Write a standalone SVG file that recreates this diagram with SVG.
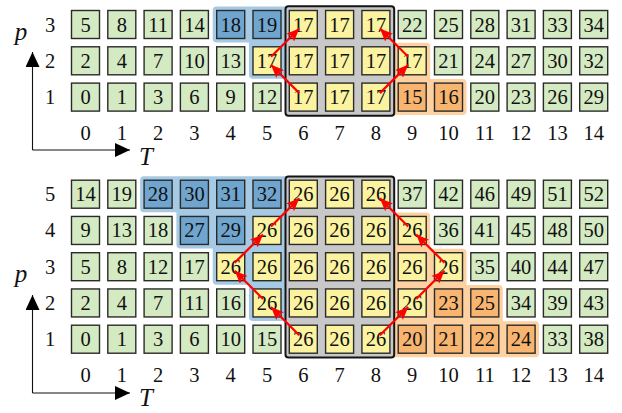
<svg xmlns="http://www.w3.org/2000/svg" width="622" height="413" viewBox="0 0 622 413">
<style>
text{font-family:"Liberation Serif","DejaVu Serif",serif;font-size:20.5px;fill:#111;text-anchor:middle}
.ax{font-style:italic;font-size:25px}
.cell rect{stroke:#2a2a2a;stroke-width:1.4}
.g rect{fill:#d4eac3}.y rect{fill:#fbf3a0}.b rect{fill:#6fa5cf}.o rect{fill:#f8b56f}
.rb{fill:#a6cae3;stroke:#a6cae3;stroke-width:8;stroke-linejoin:round}
.ro{fill:#fdd1a1;stroke:#fdd1a1;stroke-width:8;stroke-linejoin:round}
.box{fill:#c8c8c8;stroke:#151515;stroke-width:2}
.arr{stroke:#f00;stroke-width:2.2;fill:none;marker-end:url(#ra)}
.axl{stroke:#111;stroke-width:1.1;fill:none;marker-end:url(#ka)}
</style>
<defs>
<marker id="ra" markerUnits="userSpaceOnUse" markerWidth="14" markerHeight="11" refX="13" refY="5.5" orient="auto"><path d="M0,0 L13,5.5 L0,11 L2.5,5.5 z" fill="#f00"/></marker>
<marker id="ka" markerUnits="userSpaceOnUse" markerWidth="16" markerHeight="14" refX="15" refY="7" orient="auto"><path d="M0,0 L15,7 L0,14 z" fill="#000"/></marker>
</defs>
<rect width="622" height="413" fill="#fff"/>

<g id="regions">
<polygon class="rb" points="216.7,10.5 295,10.5 295,74.8 253,74.8 253,38.5 216.7,38.5"/>
<polygon class="ro" points="380,46.8 426.2,46.8 426.2,83.1 462.5,83.1 462.5,111.1 380,111.1"/>
<polygon class="rb" points="144.1,180.2 295,180.2 295,316.95 253,316.95 253,280.7 216.7,280.7 216.7,244.45 180.4,244.45 180.4,208.2 144.1,208.2"/>
<polygon class="ro" points="380,216.45 426.2,216.45 426.2,252.7 462.5,252.7 462.5,288.95 498.8,288.95 498.8,325.2 535.1,325.2 535.1,353.2 380,353.2"/>
<rect id="box-top" class="box" x="285.5" y="6.3" width="108.7" height="109.4" rx="3"/>
<rect id="box-bottom" class="box" x="285.5" y="176.5" width="108.7" height="181" rx="3"/>
</g>

<g id="axes-top">
<path class="axl" d="M32.5,150 V52"/>
<path class="axl" d="M32.5,150 H130"/>
<text class="ax" x="21" y="40">p</text>
<text class="ax" x="146" y="165">T</text>
<text x="50" y="31.5">3</text><text x="50" y="67.8">2</text><text x="50" y="104.1">1</text>
<text x="85.5" y="139.5">0</text><text x="121.8" y="139.5">1</text><text x="158.1" y="139.5">2</text><text x="194.4" y="139.5">3</text><text x="230.7" y="139.5">4</text><text x="267" y="139.5">5</text><text x="303.3" y="139.5">6</text><text x="339.6" y="139.5">7</text><text x="375.9" y="139.5">8</text><text x="412.2" y="139.5">9</text><text x="448.5" y="139.5">10</text><text x="484.8" y="139.5">11</text><text x="521.1" y="139.5">12</text><text x="557.4" y="139.5">13</text><text x="593.7" y="139.5">14</text>
</g>

<g id="axes-bottom">
<path class="axl" d="M32.5,393 V295"/>
<path class="axl" d="M32.5,393 H130"/>
<text class="ax" x="21" y="282">p</text>
<text class="ax" x="146" y="406">T</text>
<text x="50" y="201.2">5</text><text x="50" y="237.45">4</text><text x="50" y="273.7">3</text><text x="50" y="309.95">2</text><text x="50" y="346.2">1</text>
<text x="85.5" y="382">0</text><text x="121.8" y="382">1</text><text x="158.1" y="382">2</text><text x="194.4" y="382">3</text><text x="230.7" y="382">4</text><text x="267" y="382">5</text><text x="303.3" y="382">6</text><text x="339.6" y="382">7</text><text x="375.9" y="382">8</text><text x="412.2" y="382">9</text><text x="448.5" y="382">10</text><text x="484.8" y="382">11</text><text x="521.1" y="382">12</text><text x="557.4" y="382">13</text><text x="593.7" y="382">14</text>
</g>

<g id="top-r3">
<g id="a-0-3" class="cell g" transform="translate(85.5,24.5)"><rect x="-14" y="-14" width="28" height="28"/><text y="7">5</text></g>
<g id="a-1-3" class="cell g" transform="translate(121.8,24.5)"><rect x="-14" y="-14" width="28" height="28"/><text y="7">8</text></g>
<g id="a-2-3" class="cell g" transform="translate(158.1,24.5)"><rect x="-14" y="-14" width="28" height="28"/><text y="7">11</text></g>
<g id="a-3-3" class="cell g" transform="translate(194.4,24.5)"><rect x="-14" y="-14" width="28" height="28"/><text y="7">14</text></g>
<g id="a-4-3" class="cell b" transform="translate(230.7,24.5)"><rect x="-14" y="-14" width="28" height="28"/><text y="7">18</text></g>
<g id="a-5-3" class="cell b" transform="translate(267,24.5)"><rect x="-14" y="-14" width="28" height="28"/><text y="7">19</text></g>
<g id="a-6-3" class="cell y" transform="translate(303.3,24.5)"><rect x="-14" y="-14" width="28" height="28"/><text y="7">17</text></g>
<g id="a-7-3" class="cell y" transform="translate(339.6,24.5)"><rect x="-14" y="-14" width="28" height="28"/><text y="7">17</text></g>
<g id="a-8-3" class="cell y" transform="translate(375.9,24.5)"><rect x="-14" y="-14" width="28" height="28"/><text y="7">17</text></g>
<g id="a-9-3" class="cell g" transform="translate(412.2,24.5)"><rect x="-14" y="-14" width="28" height="28"/><text y="7">22</text></g>
<g id="a-10-3" class="cell g" transform="translate(448.5,24.5)"><rect x="-14" y="-14" width="28" height="28"/><text y="7">25</text></g>
<g id="a-11-3" class="cell g" transform="translate(484.8,24.5)"><rect x="-14" y="-14" width="28" height="28"/><text y="7">28</text></g>
<g id="a-12-3" class="cell g" transform="translate(521.1,24.5)"><rect x="-14" y="-14" width="28" height="28"/><text y="7">31</text></g>
<g id="a-13-3" class="cell g" transform="translate(557.4,24.5)"><rect x="-14" y="-14" width="28" height="28"/><text y="7">33</text></g>
<g id="a-14-3" class="cell g" transform="translate(593.7,24.5)"><rect x="-14" y="-14" width="28" height="28"/><text y="7">34</text></g>
</g>
<g id="top-r2">
<g id="a-0-2" class="cell g" transform="translate(85.5,60.8)"><rect x="-14" y="-14" width="28" height="28"/><text y="7">2</text></g>
<g id="a-1-2" class="cell g" transform="translate(121.8,60.8)"><rect x="-14" y="-14" width="28" height="28"/><text y="7">4</text></g>
<g id="a-2-2" class="cell g" transform="translate(158.1,60.8)"><rect x="-14" y="-14" width="28" height="28"/><text y="7">7</text></g>
<g id="a-3-2" class="cell g" transform="translate(194.4,60.8)"><rect x="-14" y="-14" width="28" height="28"/><text y="7">10</text></g>
<g id="a-4-2" class="cell g" transform="translate(230.7,60.8)"><rect x="-14" y="-14" width="28" height="28"/><text y="7">13</text></g>
<g id="a-5-2" class="cell y" transform="translate(267,60.8)"><rect x="-14" y="-14" width="28" height="28"/><text y="7">17</text></g>
<g id="a-6-2" class="cell y" transform="translate(303.3,60.8)"><rect x="-14" y="-14" width="28" height="28"/><text y="7">17</text></g>
<g id="a-7-2" class="cell y" transform="translate(339.6,60.8)"><rect x="-14" y="-14" width="28" height="28"/><text y="7">17</text></g>
<g id="a-8-2" class="cell y" transform="translate(375.9,60.8)"><rect x="-14" y="-14" width="28" height="28"/><text y="7">17</text></g>
<g id="a-9-2" class="cell y" transform="translate(412.2,60.8)"><rect x="-14" y="-14" width="28" height="28"/><text y="7">17</text></g>
<g id="a-10-2" class="cell g" transform="translate(448.5,60.8)"><rect x="-14" y="-14" width="28" height="28"/><text y="7">21</text></g>
<g id="a-11-2" class="cell g" transform="translate(484.8,60.8)"><rect x="-14" y="-14" width="28" height="28"/><text y="7">24</text></g>
<g id="a-12-2" class="cell g" transform="translate(521.1,60.8)"><rect x="-14" y="-14" width="28" height="28"/><text y="7">27</text></g>
<g id="a-13-2" class="cell g" transform="translate(557.4,60.8)"><rect x="-14" y="-14" width="28" height="28"/><text y="7">30</text></g>
<g id="a-14-2" class="cell g" transform="translate(593.7,60.8)"><rect x="-14" y="-14" width="28" height="28"/><text y="7">32</text></g>
</g>
<g id="top-r1">
<g id="a-0-1" class="cell g" transform="translate(85.5,97.1)"><rect x="-14" y="-14" width="28" height="28"/><text y="7">0</text></g>
<g id="a-1-1" class="cell g" transform="translate(121.8,97.1)"><rect x="-14" y="-14" width="28" height="28"/><text y="7">1</text></g>
<g id="a-2-1" class="cell g" transform="translate(158.1,97.1)"><rect x="-14" y="-14" width="28" height="28"/><text y="7">3</text></g>
<g id="a-3-1" class="cell g" transform="translate(194.4,97.1)"><rect x="-14" y="-14" width="28" height="28"/><text y="7">6</text></g>
<g id="a-4-1" class="cell g" transform="translate(230.7,97.1)"><rect x="-14" y="-14" width="28" height="28"/><text y="7">9</text></g>
<g id="a-5-1" class="cell g" transform="translate(267,97.1)"><rect x="-14" y="-14" width="28" height="28"/><text y="7">12</text></g>
<g id="a-6-1" class="cell y" transform="translate(303.3,97.1)"><rect x="-14" y="-14" width="28" height="28"/><text y="7">17</text></g>
<g id="a-7-1" class="cell y" transform="translate(339.6,97.1)"><rect x="-14" y="-14" width="28" height="28"/><text y="7">17</text></g>
<g id="a-8-1" class="cell y" transform="translate(375.9,97.1)"><rect x="-14" y="-14" width="28" height="28"/><text y="7">17</text></g>
<g id="a-9-1" class="cell o" transform="translate(412.2,97.1)"><rect x="-14" y="-14" width="28" height="28"/><text y="7">15</text></g>
<g id="a-10-1" class="cell o" transform="translate(448.5,97.1)"><rect x="-14" y="-14" width="28" height="28"/><text y="7">16</text></g>
<g id="a-11-1" class="cell g" transform="translate(484.8,97.1)"><rect x="-14" y="-14" width="28" height="28"/><text y="7">20</text></g>
<g id="a-12-1" class="cell g" transform="translate(521.1,97.1)"><rect x="-14" y="-14" width="28" height="28"/><text y="7">23</text></g>
<g id="a-13-1" class="cell g" transform="translate(557.4,97.1)"><rect x="-14" y="-14" width="28" height="28"/><text y="7">26</text></g>
<g id="a-14-1" class="cell g" transform="translate(593.7,97.1)"><rect x="-14" y="-14" width="28" height="28"/><text y="7">29</text></g>
</g>

<g id="bot-r5">
<g id="b-0-5" class="cell g" transform="translate(85.5,194.2)"><rect x="-14" y="-14" width="28" height="28"/><text y="7">14</text></g>
<g id="b-1-5" class="cell g" transform="translate(121.8,194.2)"><rect x="-14" y="-14" width="28" height="28"/><text y="7">19</text></g>
<g id="b-2-5" class="cell b" transform="translate(158.1,194.2)"><rect x="-14" y="-14" width="28" height="28"/><text y="7">28</text></g>
<g id="b-3-5" class="cell b" transform="translate(194.4,194.2)"><rect x="-14" y="-14" width="28" height="28"/><text y="7">30</text></g>
<g id="b-4-5" class="cell b" transform="translate(230.7,194.2)"><rect x="-14" y="-14" width="28" height="28"/><text y="7">31</text></g>
<g id="b-5-5" class="cell b" transform="translate(267,194.2)"><rect x="-14" y="-14" width="28" height="28"/><text y="7">32</text></g>
<g id="b-6-5" class="cell y" transform="translate(303.3,194.2)"><rect x="-14" y="-14" width="28" height="28"/><text y="7">26</text></g>
<g id="b-7-5" class="cell y" transform="translate(339.6,194.2)"><rect x="-14" y="-14" width="28" height="28"/><text y="7">26</text></g>
<g id="b-8-5" class="cell y" transform="translate(375.9,194.2)"><rect x="-14" y="-14" width="28" height="28"/><text y="7">26</text></g>
<g id="b-9-5" class="cell g" transform="translate(412.2,194.2)"><rect x="-14" y="-14" width="28" height="28"/><text y="7">37</text></g>
<g id="b-10-5" class="cell g" transform="translate(448.5,194.2)"><rect x="-14" y="-14" width="28" height="28"/><text y="7">42</text></g>
<g id="b-11-5" class="cell g" transform="translate(484.8,194.2)"><rect x="-14" y="-14" width="28" height="28"/><text y="7">46</text></g>
<g id="b-12-5" class="cell g" transform="translate(521.1,194.2)"><rect x="-14" y="-14" width="28" height="28"/><text y="7">49</text></g>
<g id="b-13-5" class="cell g" transform="translate(557.4,194.2)"><rect x="-14" y="-14" width="28" height="28"/><text y="7">51</text></g>
<g id="b-14-5" class="cell g" transform="translate(593.7,194.2)"><rect x="-14" y="-14" width="28" height="28"/><text y="7">52</text></g>
</g>
<g id="bot-r4">
<g id="b-0-4" class="cell g" transform="translate(85.5,230.45)"><rect x="-14" y="-14" width="28" height="28"/><text y="7">9</text></g>
<g id="b-1-4" class="cell g" transform="translate(121.8,230.45)"><rect x="-14" y="-14" width="28" height="28"/><text y="7">13</text></g>
<g id="b-2-4" class="cell g" transform="translate(158.1,230.45)"><rect x="-14" y="-14" width="28" height="28"/><text y="7">18</text></g>
<g id="b-3-4" class="cell b" transform="translate(194.4,230.45)"><rect x="-14" y="-14" width="28" height="28"/><text y="7">27</text></g>
<g id="b-4-4" class="cell b" transform="translate(230.7,230.45)"><rect x="-14" y="-14" width="28" height="28"/><text y="7">29</text></g>
<g id="b-5-4" class="cell y" transform="translate(267,230.45)"><rect x="-14" y="-14" width="28" height="28"/><text y="7">26</text></g>
<g id="b-6-4" class="cell y" transform="translate(303.3,230.45)"><rect x="-14" y="-14" width="28" height="28"/><text y="7">26</text></g>
<g id="b-7-4" class="cell y" transform="translate(339.6,230.45)"><rect x="-14" y="-14" width="28" height="28"/><text y="7">26</text></g>
<g id="b-8-4" class="cell y" transform="translate(375.9,230.45)"><rect x="-14" y="-14" width="28" height="28"/><text y="7">26</text></g>
<g id="b-9-4" class="cell y" transform="translate(412.2,230.45)"><rect x="-14" y="-14" width="28" height="28"/><text y="7">26</text></g>
<g id="b-10-4" class="cell g" transform="translate(448.5,230.45)"><rect x="-14" y="-14" width="28" height="28"/><text y="7">36</text></g>
<g id="b-11-4" class="cell g" transform="translate(484.8,230.45)"><rect x="-14" y="-14" width="28" height="28"/><text y="7">41</text></g>
<g id="b-12-4" class="cell g" transform="translate(521.1,230.45)"><rect x="-14" y="-14" width="28" height="28"/><text y="7">45</text></g>
<g id="b-13-4" class="cell g" transform="translate(557.4,230.45)"><rect x="-14" y="-14" width="28" height="28"/><text y="7">48</text></g>
<g id="b-14-4" class="cell g" transform="translate(593.7,230.45)"><rect x="-14" y="-14" width="28" height="28"/><text y="7">50</text></g>
</g>
<g id="bot-r3">
<g id="b-0-3" class="cell g" transform="translate(85.5,266.7)"><rect x="-14" y="-14" width="28" height="28"/><text y="7">5</text></g>
<g id="b-1-3" class="cell g" transform="translate(121.8,266.7)"><rect x="-14" y="-14" width="28" height="28"/><text y="7">8</text></g>
<g id="b-2-3" class="cell g" transform="translate(158.1,266.7)"><rect x="-14" y="-14" width="28" height="28"/><text y="7">12</text></g>
<g id="b-3-3" class="cell g" transform="translate(194.4,266.7)"><rect x="-14" y="-14" width="28" height="28"/><text y="7">17</text></g>
<g id="b-4-3" class="cell y" transform="translate(230.7,266.7)"><rect x="-14" y="-14" width="28" height="28"/><text y="7">26</text></g>
<g id="b-5-3" class="cell y" transform="translate(267,266.7)"><rect x="-14" y="-14" width="28" height="28"/><text y="7">26</text></g>
<g id="b-6-3" class="cell y" transform="translate(303.3,266.7)"><rect x="-14" y="-14" width="28" height="28"/><text y="7">26</text></g>
<g id="b-7-3" class="cell y" transform="translate(339.6,266.7)"><rect x="-14" y="-14" width="28" height="28"/><text y="7">26</text></g>
<g id="b-8-3" class="cell y" transform="translate(375.9,266.7)"><rect x="-14" y="-14" width="28" height="28"/><text y="7">26</text></g>
<g id="b-9-3" class="cell y" transform="translate(412.2,266.7)"><rect x="-14" y="-14" width="28" height="28"/><text y="7">26</text></g>
<g id="b-10-3" class="cell y" transform="translate(448.5,266.7)"><rect x="-14" y="-14" width="28" height="28"/><text y="7">26</text></g>
<g id="b-11-3" class="cell g" transform="translate(484.8,266.7)"><rect x="-14" y="-14" width="28" height="28"/><text y="7">35</text></g>
<g id="b-12-3" class="cell g" transform="translate(521.1,266.7)"><rect x="-14" y="-14" width="28" height="28"/><text y="7">40</text></g>
<g id="b-13-3" class="cell g" transform="translate(557.4,266.7)"><rect x="-14" y="-14" width="28" height="28"/><text y="7">44</text></g>
<g id="b-14-3" class="cell g" transform="translate(593.7,266.7)"><rect x="-14" y="-14" width="28" height="28"/><text y="7">47</text></g>
</g>
<g id="bot-r2">
<g id="b-0-2" class="cell g" transform="translate(85.5,302.95)"><rect x="-14" y="-14" width="28" height="28"/><text y="7">2</text></g>
<g id="b-1-2" class="cell g" transform="translate(121.8,302.95)"><rect x="-14" y="-14" width="28" height="28"/><text y="7">4</text></g>
<g id="b-2-2" class="cell g" transform="translate(158.1,302.95)"><rect x="-14" y="-14" width="28" height="28"/><text y="7">7</text></g>
<g id="b-3-2" class="cell g" transform="translate(194.4,302.95)"><rect x="-14" y="-14" width="28" height="28"/><text y="7">11</text></g>
<g id="b-4-2" class="cell g" transform="translate(230.7,302.95)"><rect x="-14" y="-14" width="28" height="28"/><text y="7">16</text></g>
<g id="b-5-2" class="cell y" transform="translate(267,302.95)"><rect x="-14" y="-14" width="28" height="28"/><text y="7">26</text></g>
<g id="b-6-2" class="cell y" transform="translate(303.3,302.95)"><rect x="-14" y="-14" width="28" height="28"/><text y="7">26</text></g>
<g id="b-7-2" class="cell y" transform="translate(339.6,302.95)"><rect x="-14" y="-14" width="28" height="28"/><text y="7">26</text></g>
<g id="b-8-2" class="cell y" transform="translate(375.9,302.95)"><rect x="-14" y="-14" width="28" height="28"/><text y="7">26</text></g>
<g id="b-9-2" class="cell y" transform="translate(412.2,302.95)"><rect x="-14" y="-14" width="28" height="28"/><text y="7">26</text></g>
<g id="b-10-2" class="cell o" transform="translate(448.5,302.95)"><rect x="-14" y="-14" width="28" height="28"/><text y="7">23</text></g>
<g id="b-11-2" class="cell o" transform="translate(484.8,302.95)"><rect x="-14" y="-14" width="28" height="28"/><text y="7">25</text></g>
<g id="b-12-2" class="cell g" transform="translate(521.1,302.95)"><rect x="-14" y="-14" width="28" height="28"/><text y="7">34</text></g>
<g id="b-13-2" class="cell g" transform="translate(557.4,302.95)"><rect x="-14" y="-14" width="28" height="28"/><text y="7">39</text></g>
<g id="b-14-2" class="cell g" transform="translate(593.7,302.95)"><rect x="-14" y="-14" width="28" height="28"/><text y="7">43</text></g>
</g>
<g id="bot-r1">
<g id="b-0-1" class="cell g" transform="translate(85.5,339.2)"><rect x="-14" y="-14" width="28" height="28"/><text y="7">0</text></g>
<g id="b-1-1" class="cell g" transform="translate(121.8,339.2)"><rect x="-14" y="-14" width="28" height="28"/><text y="7">1</text></g>
<g id="b-2-1" class="cell g" transform="translate(158.1,339.2)"><rect x="-14" y="-14" width="28" height="28"/><text y="7">3</text></g>
<g id="b-3-1" class="cell g" transform="translate(194.4,339.2)"><rect x="-14" y="-14" width="28" height="28"/><text y="7">6</text></g>
<g id="b-4-1" class="cell g" transform="translate(230.7,339.2)"><rect x="-14" y="-14" width="28" height="28"/><text y="7">10</text></g>
<g id="b-5-1" class="cell g" transform="translate(267,339.2)"><rect x="-14" y="-14" width="28" height="28"/><text y="7">15</text></g>
<g id="b-6-1" class="cell y" transform="translate(303.3,339.2)"><rect x="-14" y="-14" width="28" height="28"/><text y="7">26</text></g>
<g id="b-7-1" class="cell y" transform="translate(339.6,339.2)"><rect x="-14" y="-14" width="28" height="28"/><text y="7">26</text></g>
<g id="b-8-1" class="cell y" transform="translate(375.9,339.2)"><rect x="-14" y="-14" width="28" height="28"/><text y="7">26</text></g>
<g id="b-9-1" class="cell o" transform="translate(412.2,339.2)"><rect x="-14" y="-14" width="28" height="28"/><text y="7">20</text></g>
<g id="b-10-1" class="cell o" transform="translate(448.5,339.2)"><rect x="-14" y="-14" width="28" height="28"/><text y="7">21</text></g>
<g id="b-11-1" class="cell o" transform="translate(484.8,339.2)"><rect x="-14" y="-14" width="28" height="28"/><text y="7">22</text></g>
<g id="b-12-1" class="cell o" transform="translate(521.1,339.2)"><rect x="-14" y="-14" width="28" height="28"/><text y="7">24</text></g>
<g id="b-13-1" class="cell g" transform="translate(557.4,339.2)"><rect x="-14" y="-14" width="28" height="28"/><text y="7">33</text></g>
<g id="b-14-1" class="cell g" transform="translate(593.7,339.2)"><rect x="-14" y="-14" width="28" height="28"/><text y="7">38</text></g>
</g>

<g id="connectors">
<path class="arr" d="M299.3,93.1 L271,64.8"/>
<path class="arr" d="M271,56.8 L299.3,28.5"/>
<path class="arr" d="M379.9,93.1 L408.2,64.8"/>
<path class="arr" d="M408.2,56.8 L379.9,28.5"/>
<path class="arr" d="M299.3,335.2 L271,306.95"/>
<path class="arr" d="M263,298.95 L234.7,270.7"/>
<path class="arr" d="M234.7,262.7 L263,234.45"/>
<path class="arr" d="M271,226.45 L299.3,198.2"/>
<path class="arr" d="M379.9,335.2 L408.2,306.95"/>
<path class="arr" d="M416.2,298.95 L444.5,270.7"/>
<path class="arr" d="M444.5,262.7 L416.2,234.45"/>
<path class="arr" d="M408.2,226.45 L379.9,198.2"/>
</g>
</svg>
